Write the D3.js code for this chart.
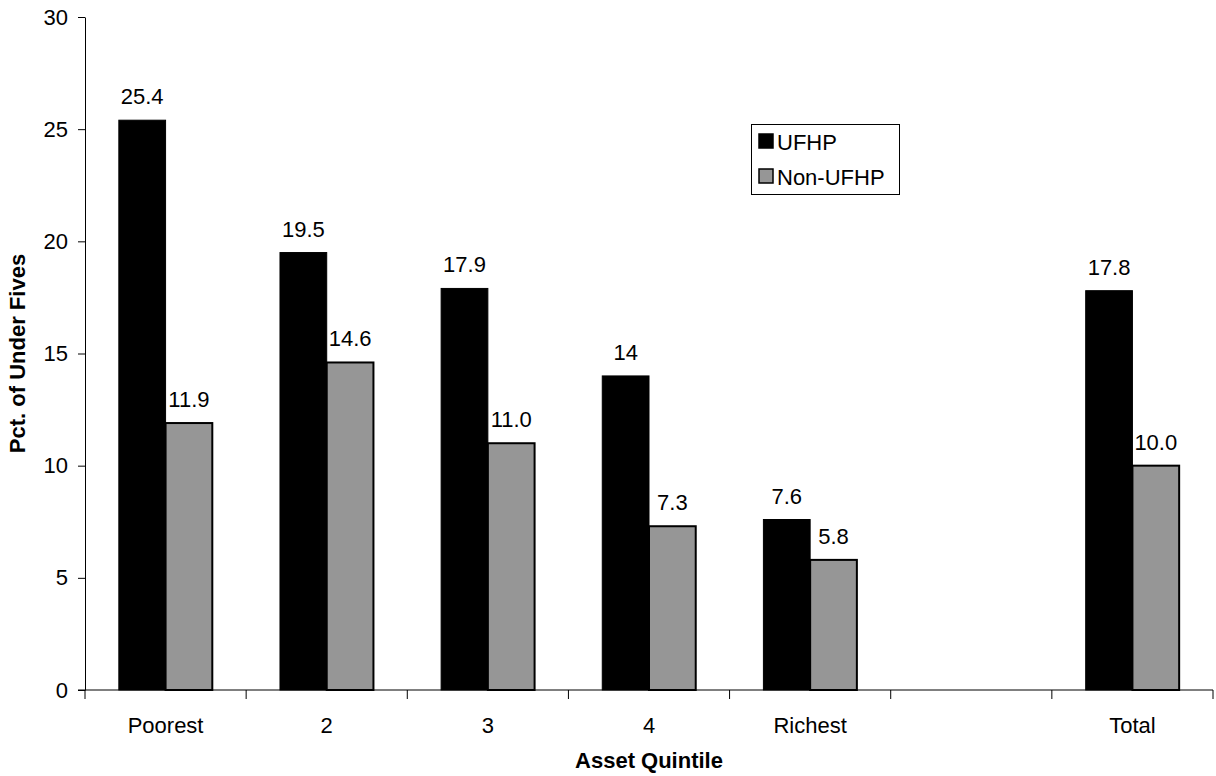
<!DOCTYPE html>
<html>
<head>
<meta charset="utf-8">
<script src="https://cdn.jsdelivr.net/npm/d3@7"></script>
<style>
  html, body { margin: 0; padding: 0; background: #fff; }
  svg { display: block; font-family: "Liberation Sans", Arial, sans-serif; }
</style>
</head>
<body>
<svg id="chart" width="1216" height="776"></svg>
<script>
// Under-five percentages by asset quintile, UFHP vs non-UFHP areas
const categories = ["Poorest", "2", "3", "4", "Richest", "", "Total"];
const seriesNames = ["UFHP", "Non-UFHP"];
const ufhpValues = [25.4, 19.5, 17.9, 14, 7.6, null, 17.8];
const nonUfhpValues = [11.9, 14.6, 11.0, 7.3, 5.8, null, 10.0];
const yTicks = [0, 5, 10, 15, 20, 25, 30];
const seriesColors = ["#000000", "#969696"];

const svg = d3.select("#chart");
const margin = { left: 85, right: 3, top: 17, bottom: 86 };
const W = 1216, H = 776;

const x = d3.scaleBand()
  .domain(categories.map((c, i) => i))
  .range([margin.left, W - margin.right])
  .paddingInner(0)
  .paddingOuter(0);

const groupPad = 0.21;
const xInner = d3.scaleBand()
  .domain([0, 1])
  .range([x.bandwidth() * groupPad, x.bandwidth() * (1 - groupPad)]);

const y = d3.scaleLinear().domain([0, 30]).range([H - margin.bottom, margin.top]);

const fontSize = 22;

// Y axis
const yAxis = svg.append("g")
  .attr("transform", `translate(${margin.left},0)`)
  .call(d3.axisLeft(y).tickValues(yTicks).tickSize(7).tickSizeOuter(0).tickPadding(10));
yAxis.select(".domain").attr("stroke", "#000").attr("stroke-width", 1);
yAxis.selectAll(".tick line").attr("stroke", "#000");
yAxis.selectAll(".tick text")
  .attr("font-size", fontSize)
  .attr("font-family", "Liberation Sans, Arial, sans-serif")
  .attr("fill", "#000");

// Bars
const series = [ufhpValues, nonUfhpValues];
series.forEach((vals, s) => {
  const data = vals.map((v, i) => ({ i, v })).filter(d => d.v !== null);
  svg.append("g")
    .selectAll("rect")
    .data(data)
    .join("rect")
    .attr("x", d => x(d.i) + xInner(s))
    .attr("y", d => y(d.v))
    .attr("width", xInner.bandwidth())
    .attr("height", d => y(0) - y(d.v))
    .attr("fill", seriesColors[s])
    .attr("stroke", "#000")
    .attr("stroke-width", s === 0 ? 1 : 2);

  svg.append("g")
    .selectAll("text")
    .data(data)
    .join("text")
    .attr("x", d => x(d.i) + xInner(s) + xInner.bandwidth() / 2)
    .attr("y", d => y(d.v) - 16)
    .attr("text-anchor", "middle")
    .attr("font-size", fontSize)
    .attr("fill", "#000")
    .text(d => s === 0 ? String(d.v) : d.v.toFixed(1));
});

// X axis: ticks sit on band boundaries, labels centred in each band
const xAxisG = svg.append("g").attr("transform", `translate(0,${y(0)})`);
xAxisG.append("line")
  .attr("x1", margin.left - 7).attr("x2", W - margin.right)
  .attr("y1", 0).attr("y2", 0)
  .attr("stroke", "#000");
const boundaries = categories.map((c, i) => x(i)).concat([x(categories.length - 1) + x.bandwidth()]);
xAxisG.selectAll("line.tick")
  .data(boundaries)
  .join("line")
  .attr("class", "tick")
  .attr("x1", d => d).attr("x2", d => d)
  .attr("y1", 0).attr("y2", 9)
  .attr("stroke", "#000");
xAxisG.selectAll("text")
  .data(categories)
  .join("text")
  .attr("x", (c, i) => x(i) + x.bandwidth() / 2)
  .attr("y", 43)
  .attr("text-anchor", "middle")
  .attr("font-size", fontSize)
  .attr("fill", "#000")
  .text(c => c);

// Axis titles
svg.append("text")
  .attr("x", 649)
  .attr("y", 768)
  .attr("text-anchor", "middle")
  .attr("font-size", fontSize)
  .attr("font-weight", "bold")
  .text("Asset Quintile");

svg.append("text")
  .attr("transform", `translate(25,${(margin.top + y(0)) / 2}) rotate(-90)`)
  .attr("text-anchor", "middle")
  .attr("font-size", fontSize)
  .attr("font-weight", "bold")
  .text("Pct. of Under Fives");

// Legend
const legend = svg.append("g");
legend.append("rect")
  .attr("x", 751.5).attr("y", 124.5)
  .attr("width", 148).attr("height", 70)
  .attr("fill", "#fff").attr("stroke", "#000");
seriesNames.forEach((name, s) => {
  const ly = 134 + s * 35;
  legend.append("rect")
    .attr("x", 759).attr("y", ly)
    .attr("width", 14).attr("height", 14)
    .attr("fill", seriesColors[s])
    .attr("stroke", "#000").attr("stroke-width", 1.5);
  legend.append("text")
    .attr("x", 777).attr("y", ly + 15.5)
    .attr("font-size", fontSize)
    .attr("fill", "#000")
    .text(name);
});
</script>
</body>
</html>
